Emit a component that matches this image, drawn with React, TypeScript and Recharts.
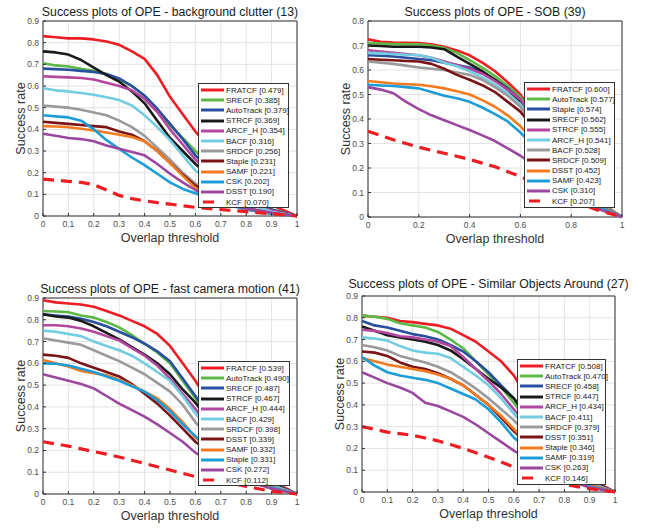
import React from 'react'
import {
  LineChart,
  Line,
  XAxis,
  YAxis,
  CartesianGrid,
  ReferenceArea,
  Legend,
} from 'recharts'

const FONT = "'Liberation Sans', Arial, Helvetica, sans-serif"

// overlap thresholds sampled along the x axis
const thresholds = [0, 0.05, 0.1, 0.15, 0.2, 0.25, 0.3, 0.35, 0.4, 0.45, 0.5, 0.55, 0.6, 0.7, 0.8, 0.9, 1]

// colour by rank in the legend (last one is dashed)
const rankColors = [
  '#ee1d23', '#5cb946', '#2a4f9e', '#1a1a1a', '#b3469e', '#72cde0',
  '#9a9a9a', '#7a1416', '#f27b20', '#1d9dd8', '#9c479f', '#ee1d23',
]

const tenthTicks = [0, 0.1, 0.2, 0.3, 0.4, 0.5, 0.6, 0.7, 0.8, 0.9, 1]
const fifthTicks = [0, 0.2, 0.4, 0.6, 0.8, 1]
const yTicks09 = [0, 0.1, 0.2, 0.3, 0.4, 0.5, 0.6, 0.7, 0.8, 0.9]
const yTicks08 = [0, 0.1, 0.2, 0.3, 0.4, 0.5, 0.6, 0.7, 0.8]

// background clutter (13)
const clutterTrackers = ['FRATCF', 'SRECF', 'AutoTrack', 'STRCF', 'ARCF_H', 'BACF', 'SRDCF', 'Staple', 'SAMF', 'CSK', 'DSST', 'KCF']
const clutterScores = [0.479, 0.385, 0.379, 0.369, 0.354, 0.316, 0.256, 0.231, 0.221, 0.202, 0.19, 0.07]
const clutterRates = [
  [0.83, 0.825, 0.82, 0.82, 0.815, 0.805, 0.79, 0.76, 0.725, 0.65, 0.55, 0.47, 0.39, 0.25, 0.13, 0.05, 0],
  [0.705, 0.695, 0.69, 0.68, 0.67, 0.655, 0.63, 0.6, 0.555, 0.49, 0.42, 0.36, 0.3, 0.18, 0.09, 0.03, 0],
  [0.68, 0.678, 0.675, 0.67, 0.665, 0.655, 0.635, 0.6, 0.555, 0.495, 0.425, 0.355, 0.28, 0.16, 0.08, 0.03, 0],
  [0.76, 0.755, 0.745, 0.72, 0.685, 0.65, 0.62, 0.575, 0.52, 0.44, 0.36, 0.3, 0.24, 0.14, 0.07, 0.025, 0],
  [0.645, 0.642, 0.64, 0.637, 0.63, 0.615, 0.6, 0.58, 0.54, 0.48, 0.4, 0.33, 0.26, 0.15, 0.07, 0.025, 0],
  [0.59, 0.58, 0.575, 0.568, 0.56, 0.548, 0.535, 0.51, 0.465, 0.41, 0.35, 0.28, 0.21, 0.12, 0.06, 0.02, 0],
  [0.51, 0.505, 0.5, 0.49, 0.478, 0.465, 0.44, 0.41, 0.37, 0.315, 0.26, 0.2, 0.15, 0.08, 0.04, 0.015, 0],
  [0.435, 0.43, 0.425, 0.42, 0.415, 0.41, 0.39, 0.375, 0.345, 0.3, 0.245, 0.19, 0.14, 0.07, 0.035, 0.012, 0],
  [0.415, 0.413, 0.41, 0.403, 0.395, 0.385, 0.375, 0.365, 0.345, 0.3, 0.245, 0.185, 0.13, 0.065, 0.03, 0.01, 0],
  [0.465, 0.46, 0.455, 0.44, 0.4, 0.35, 0.31, 0.27, 0.235, 0.195, 0.155, 0.125, 0.105, 0.06, 0.03, 0.01, 0],
  [0.38, 0.37, 0.36, 0.355, 0.345, 0.325, 0.31, 0.295, 0.28, 0.24, 0.195, 0.155, 0.12, 0.065, 0.035, 0.015, 0],
  [0.17, 0.165, 0.16, 0.155, 0.145, 0.12, 0.095, 0.08, 0.07, 0.062, 0.055, 0.047, 0.04, 0.03, 0.02, 0.01, 0],
]

// SOB (39)
const sobTrackers = ['FRATCF', 'AutoTrack', 'Staple', 'SRECF', 'STRCF', 'ARCF_H', 'BACF', 'SRDCF', 'DSST', 'SAMF', 'CSK', 'KCF']
const sobScores = [0.6, 0.577, 0.574, 0.562, 0.555, 0.541, 0.528, 0.509, 0.452, 0.423, 0.31, 0.207]
const sobRates = [
  [0.725, 0.715, 0.712, 0.711, 0.71, 0.705, 0.695, 0.68, 0.66, 0.63, 0.595, 0.55, 0.5, 0.35, 0.2, 0.07, 0],
  [0.71, 0.708, 0.706, 0.705, 0.705, 0.7, 0.69, 0.67, 0.64, 0.61, 0.575, 0.535, 0.49, 0.34, 0.19, 0.065, 0],
  [0.66, 0.658, 0.655, 0.65, 0.645, 0.64, 0.63, 0.62, 0.61, 0.59, 0.56, 0.525, 0.48, 0.33, 0.18, 0.06, 0],
  [0.7, 0.698, 0.695, 0.695, 0.695, 0.692, 0.685, 0.655, 0.625, 0.595, 0.56, 0.52, 0.47, 0.32, 0.18, 0.06, 0],
  [0.68, 0.675, 0.67, 0.665, 0.66, 0.65, 0.635, 0.62, 0.605, 0.585, 0.555, 0.52, 0.48, 0.33, 0.18, 0.06, 0],
  [0.67, 0.668, 0.665, 0.662, 0.66, 0.65, 0.63, 0.615, 0.595, 0.57, 0.54, 0.505, 0.46, 0.32, 0.17, 0.06, 0],
  [0.635, 0.63, 0.625, 0.618, 0.61, 0.605, 0.6, 0.59, 0.58, 0.56, 0.53, 0.495, 0.45, 0.31, 0.17, 0.055, 0],
  [0.645, 0.642, 0.64, 0.637, 0.635, 0.625, 0.605, 0.58, 0.56, 0.538, 0.51, 0.47, 0.43, 0.3, 0.16, 0.05, 0],
  [0.555, 0.55, 0.545, 0.542, 0.54, 0.534, 0.525, 0.513, 0.5, 0.477, 0.45, 0.415, 0.37, 0.26, 0.14, 0.05, 0],
  [0.54, 0.537, 0.535, 0.53, 0.525, 0.51, 0.495, 0.485, 0.47, 0.447, 0.42, 0.39, 0.345, 0.24, 0.13, 0.045, 0],
  [0.53, 0.52, 0.505, 0.47, 0.44, 0.415, 0.395, 0.375, 0.355, 0.333, 0.31, 0.28, 0.25, 0.18, 0.1, 0.035, 0],
  [0.35, 0.333, 0.315, 0.3, 0.285, 0.272, 0.26, 0.248, 0.235, 0.22, 0.205, 0.185, 0.165, 0.12, 0.07, 0.03, 0],
]

// fast camera motion (41)
const fcmTrackers = ['FRATCF', 'AutoTrack', 'SRECF', 'STRCF', 'ARCF_H', 'BACF', 'SRDCF', 'DSST', 'SAMF', 'Staple', 'CSK', 'KCF']
const fcmScores = [0.539, 0.49, 0.487, 0.467, 0.444, 0.429, 0.398, 0.339, 0.332, 0.331, 0.272, 0.112]
const fcmRates = [
  [0.89, 0.88, 0.875, 0.87, 0.86, 0.84, 0.82, 0.795, 0.77, 0.735, 0.68, 0.6, 0.52, 0.33, 0.17, 0.06, 0],
  [0.84, 0.838, 0.835, 0.82, 0.81, 0.79, 0.765, 0.73, 0.69, 0.65, 0.6, 0.52, 0.44, 0.28, 0.14, 0.05, 0],
  [0.825, 0.82, 0.815, 0.805, 0.79, 0.77, 0.745, 0.72, 0.69, 0.655, 0.61, 0.53, 0.45, 0.28, 0.14, 0.05, 0],
  [0.825, 0.815, 0.81, 0.795, 0.77, 0.74, 0.71, 0.675, 0.64, 0.6, 0.55, 0.48, 0.42, 0.26, 0.13, 0.045, 0],
  [0.775, 0.775, 0.77, 0.76, 0.745, 0.725, 0.705, 0.67, 0.635, 0.59, 0.53, 0.46, 0.39, 0.24, 0.12, 0.04, 0],
  [0.75, 0.745, 0.735, 0.725, 0.7, 0.68, 0.66, 0.635, 0.6, 0.56, 0.52, 0.45, 0.37, 0.23, 0.11, 0.04, 0],
  [0.715, 0.705, 0.695, 0.685, 0.66, 0.635, 0.61, 0.58, 0.55, 0.51, 0.47, 0.41, 0.33, 0.2, 0.1, 0.035, 0],
  [0.64, 0.635, 0.625, 0.6, 0.58, 0.56, 0.54, 0.505, 0.46, 0.415, 0.36, 0.3, 0.24, 0.15, 0.07, 0.025, 0],
  [0.615, 0.6, 0.585, 0.565, 0.555, 0.545, 0.525, 0.5, 0.47, 0.44, 0.39, 0.33, 0.26, 0.16, 0.08, 0.03, 0],
  [0.6, 0.598, 0.59, 0.575, 0.56, 0.54, 0.52, 0.495, 0.47, 0.43, 0.38, 0.32, 0.265, 0.16, 0.08, 0.03, 0],
  [0.55, 0.535, 0.52, 0.505, 0.485, 0.45, 0.415, 0.385, 0.355, 0.32, 0.28, 0.24, 0.19, 0.12, 0.06, 0.025, 0],
  [0.24, 0.23, 0.22, 0.207, 0.195, 0.183, 0.17, 0.155, 0.14, 0.125, 0.11, 0.095, 0.08, 0.06, 0.035, 0.012, 0],
]

// Similar Objects Around (27)
const soaTrackers = ['FRATCF', 'AutoTrack', 'SRECF', 'STRCF', 'ARCF_H', 'BACF', 'SRDCF', 'DSST', 'Staple', 'SAMF', 'CSK', 'KCF']
const soaScores = [0.508, 0.47, 0.458, 0.447, 0.434, 0.411, 0.379, 0.351, 0.346, 0.319, 0.263, 0.146]
const soaRates = [
  [0.81, 0.805, 0.8, 0.785, 0.78, 0.772, 0.765, 0.75, 0.72, 0.69, 0.645, 0.6, 0.535, 0.35, 0.18, 0.06, 0],
  [0.81, 0.805, 0.795, 0.775, 0.765, 0.755, 0.735, 0.7, 0.66, 0.6, 0.54, 0.48, 0.41, 0.26, 0.13, 0.045, 0],
  [0.785, 0.765, 0.755, 0.74, 0.725, 0.715, 0.7, 0.675, 0.645, 0.6, 0.55, 0.49, 0.43, 0.27, 0.14, 0.05, 0],
  [0.76, 0.74, 0.72, 0.71, 0.7, 0.69, 0.675, 0.65, 0.61, 0.565, 0.52, 0.48, 0.43, 0.27, 0.14, 0.05, 0],
  [0.745, 0.74, 0.73, 0.715, 0.71, 0.7, 0.69, 0.67, 0.62, 0.565, 0.51, 0.45, 0.38, 0.24, 0.12, 0.045, 0],
  [0.71, 0.705, 0.695, 0.67, 0.65, 0.64, 0.635, 0.615, 0.575, 0.535, 0.49, 0.43, 0.36, 0.22, 0.11, 0.04, 0],
  [0.675, 0.665, 0.65, 0.625, 0.61, 0.595, 0.575, 0.55, 0.515, 0.475, 0.43, 0.38, 0.33, 0.2, 0.1, 0.035, 0],
  [0.645, 0.64, 0.625, 0.595, 0.575, 0.565, 0.545, 0.52, 0.49, 0.445, 0.4, 0.34, 0.28, 0.17, 0.085, 0.03, 0],
  [0.615, 0.6, 0.585, 0.575, 0.565, 0.555, 0.54, 0.52, 0.49, 0.445, 0.4, 0.35, 0.29, 0.17, 0.085, 0.03, 0],
  [0.62, 0.58, 0.55, 0.535, 0.525, 0.515, 0.5, 0.475, 0.45, 0.425, 0.38, 0.32, 0.25, 0.15, 0.075, 0.025, 0],
  [0.55, 0.525, 0.5, 0.48, 0.455, 0.41, 0.395, 0.37, 0.345, 0.31, 0.27, 0.23, 0.19, 0.12, 0.06, 0.02, 0],
  [0.3, 0.288, 0.275, 0.268, 0.26, 0.248, 0.235, 0.218, 0.2, 0.18, 0.16, 0.138, 0.115, 0.07, 0.035, 0.015, 0],
]

const Y_AXIS_W = 44
const X_AXIS_H = 44

interface PanelProps {
  title: string
  trackers: string[]
  scores: number[]
  rates: number[][]
  xTicks: number[]
  yTicks: number[]
  // plot box in page coords
  plot: { l: number; r: number; t: number; b: number }
  cell: { x: number; y: number; w: number }
  titleY: number
  legendBox: { x: number; y: number; w: number; h: number }
}

// legend keeps the ranking order of the trackers (recharts would sort by name)
function SuccessLegend({ trackers, scores }: { trackers: string[]; scores: number[] }) {
  return (
    <div
      style={{
        width: '100%',
        height: '100%',
        boxSizing: 'border-box',
        border: '1px solid #333',
        background: '#fff',
        paddingTop: 1,
        fontFamily: FONT,
        fontSize: 8,
        color: '#1a1a1a',
      }}
    >
      {trackers.map((name, i) => {
        const dashed = i === trackers.length - 1
        return (
          <div key={name} style={{ display: 'flex', alignItems: 'center', height: 10.2, whiteSpace: 'nowrap' }}>
            <svg width={27} height={6} style={{ flex: 'none' }}>
              <line
                x1={dashed ? 4 : 2}
                x2={25}
                y1={3}
                y2={3}
                stroke={rankColors[i]}
                strokeWidth={3}
                strokeDasharray={dashed ? '11 20' : undefined}
              />
            </svg>
            <span>{`${name} [${scores[i].toFixed(3)}]`}</span>
          </div>
        )
      })}
    </div>
  )
}

function SuccessPanel(p: PanelProps) {
  const data = thresholds.map((t, i) => {
    const row: Record<string, number> = { t }
    p.rates.forEach((r, k) => {
      row['s' + k] = r[i]
    })
    return row
  })
  const yMax = p.yTicks[p.yTicks.length - 1]
  const height = p.plot.b - p.cell.y + X_AXIS_H + 2
  const margin = {
    top: p.plot.t - p.cell.y,
    left: p.plot.l - p.cell.x - Y_AXIS_W,
    right: p.cell.x + p.cell.w - p.plot.r,
    bottom: 2,
  }
  const tickStyle = { fontSize: 8.5, fill: '#4d4d4d', fontFamily: FONT }
  const labelStyle = { fontSize: 12.5, fill: '#333', fontFamily: FONT }

  return (
    <>
      <div
        style={{
          position: 'absolute',
          left: p.plot.l - 20,
          width: p.plot.r - p.plot.l + 40,
          top: p.titleY - 5.5,
          lineHeight: '11px',
          textAlign: 'center',
          fontFamily: FONT,
          fontSize: 12.3,
          color: '#1a1a1a',
          whiteSpace: 'nowrap',
        }}
      >
        {p.title}
      </div>
      <div style={{ position: 'absolute', left: p.cell.x, top: p.cell.y }}>
        <LineChart width={p.cell.w} height={height} data={data} margin={margin}>
          <CartesianGrid stroke="#e3e3e3" />
          <XAxis
            dataKey="t"
            type="number"
            domain={[0, 1]}
            ticks={p.xTicks}
            interval={0}
            height={X_AXIS_H}
            axisLine={false}
            tickLine={{ stroke: '#333' }}
            tickSize={-3}
            tickMargin={8}
            tick={tickStyle}
            label={{ value: 'Overlap threshold', position: 'center', style: labelStyle }}
          />
          <YAxis
            type="number"
            domain={[0, yMax]}
            ticks={p.yTicks}
            interval={0}
            width={Y_AXIS_W}
            axisLine={false}
            tickLine={{ stroke: '#333' }}
            tickSize={-3}
            tickMargin={7}
            tick={tickStyle}
            label={{ value: 'Success rate', angle: -90, position: 'center', style: labelStyle }}
          />
          {p.trackers.map((name, k) => (
            <Line
              key={name}
              type="linear"
              dataKey={'s' + k}
              name={`${name} [${p.scores[k].toFixed(3)}]`}
              stroke={rankColors[k]}
              strokeWidth={k === p.trackers.length - 1 ? 3.2 : 2.6}
              strokeDasharray={k === p.trackers.length - 1 ? '11 7' : undefined}
              strokeLinejoin="round"
              dot={false}
              activeDot={false}
              isAnimationActive={false}
            />
          ))}
          <ReferenceArea
            x1={0}
            x2={1}
            y1={0}
            y2={yMax}
            fill="none"
            stroke="#333"
            strokeWidth={1}
            ifOverflow="visible"
          />
          <Legend
            layout="vertical"
            align="center"
            verticalAlign="middle"
            content={<SuccessLegend trackers={p.trackers} scores={p.scores} />}
            wrapperStyle={{
              left: p.legendBox.x - p.cell.x,
              top: p.legendBox.y - p.cell.y,
              width: p.legendBox.w,
              height: p.legendBox.h,
              margin: 0,
            }}
          />
        </LineChart>
      </div>
    </>
  )
}

export default function App() {
  return (
    <div
      style={{
        position: 'absolute',
        left: 0,
        top: 0,
        width: 652,
        height: 529,
        overflow: 'hidden',
        background: '#fff',
        fontFamily: FONT,
      }}
    >
      <SuccessPanel
        title="Success plots of OPE - background clutter (13)"
        trackers={clutterTrackers}
        scores={clutterScores}
        rates={clutterRates}
        xTicks={tenthTicks}
        yTicks={yTicks09}
        plot={{ l: 43, r: 297, t: 21, b: 216 }}
        cell={{ x: 0, y: 0, w: 326 }}
        titleY={12}
        legendBox={{ x: 198, y: 83, w: 91, h: 125 }}
      />
      <SuccessPanel
        title="Success plots of OPE - SOB (39)"
        trackers={sobTrackers}
        scores={sobScores}
        rates={sobRates}
        xTicks={fifthTicks}
        yTicks={yTicks08}
        plot={{ l: 368, r: 622, t: 21, b: 217 }}
        cell={{ x: 326, y: 0, w: 326 }}
        titleY={12}
        legendBox={{ x: 524, y: 82, w: 91, h: 126 }}
      />
      <SuccessPanel
        title="Success plots of OPE - fast camera motion (41)"
        trackers={fcmTrackers}
        scores={fcmScores}
        rates={fcmRates}
        xTicks={tenthTicks}
        yTicks={yTicks09}
        plot={{ l: 43, r: 297, t: 298, b: 494 }}
        cell={{ x: 0, y: 264, w: 326 }}
        titleY={289}
        legendBox={{ x: 198, y: 361, w: 92, h: 125 }}
      />
      <SuccessPanel
        title="Success plots of OPE - Similar Objects Around (27)"
        trackers={soaTrackers}
        scores={soaScores}
        rates={soaRates}
        xTicks={tenthTicks}
        yTicks={yTicks09}
        plot={{ l: 362, r: 615, t: 296, b: 492 }}
        cell={{ x: 326, y: 264, w: 326 }}
        titleY={284}
        legendBox={{ x: 517, y: 359, w: 89, h: 126 }}
      />
    </div>
  )
}
